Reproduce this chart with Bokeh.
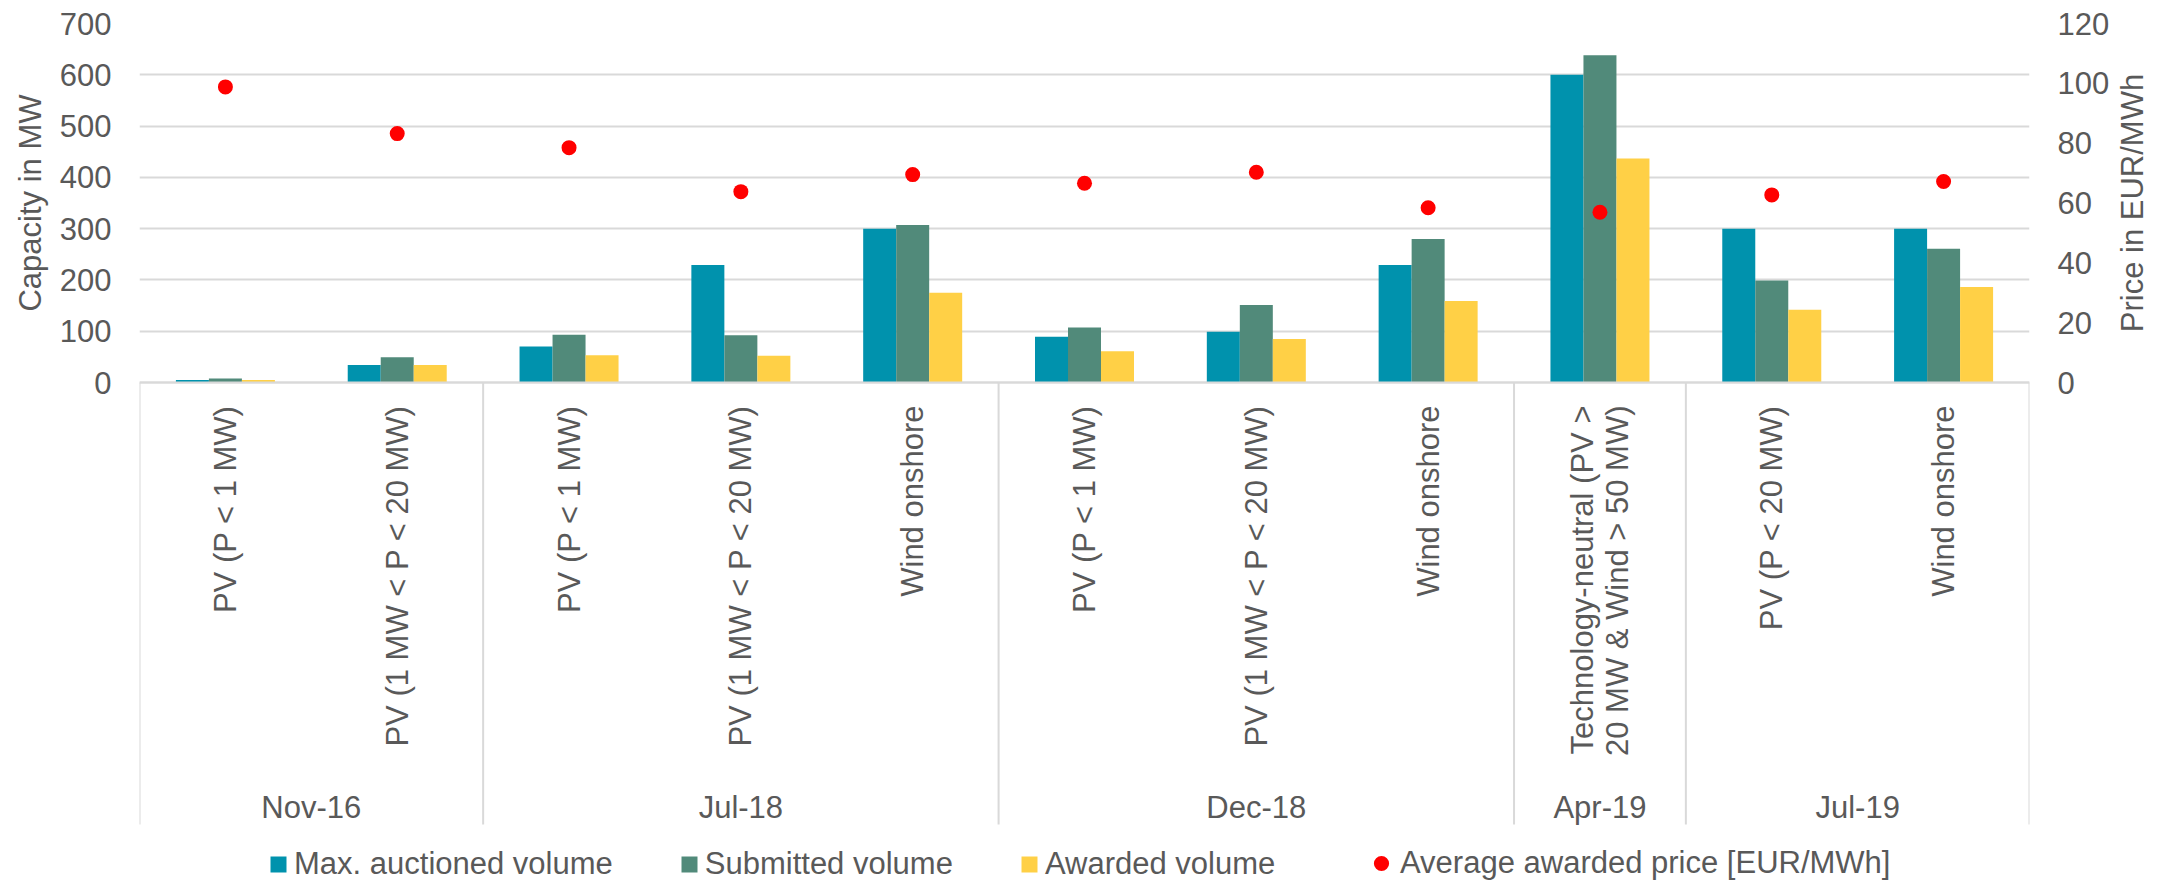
import math
from bokeh.plotting import figure
from bokeh.models import (ColumnDataSource, FactorRange, Range1d, LinearAxis, FixedTicker,
                          Legend, LegendItem, Label)
from bokeh.transform import dodge
from bokeh.core.properties import value
from bokeh.embed import file_html
from bokeh.resources import INLINE

# ---------------- data ----------------
groups = ["Nov-16", "Nov-16", "Jul-18", "Jul-18", "Jul-18", "Dec-18", "Dec-18", "Dec-18",
          "Apr-19", "Jul-19", "Jul-19"]
categories = ["PV (P < 1 MW)", "PV (1 MW < P < 20 MW)",
              "PV (P < 1 MW)", "PV (1 MW < P < 20 MW)", "Wind onshore",
              "PV (P < 1 MW)", "PV (1 MW < P < 20 MW)", "Wind onshore",
              "Technology-neutral (PV >\n20 MW & Wind > 50 MW)",
              "PV (P < 20 MW)", "Wind onshore"]
max_auctioned = [5, 34, 70, 229, 300, 89, 99, 229, 600, 300, 300]
submitted = [8, 49, 93, 92, 307, 107, 151, 280, 638, 199, 261]
awarded = [5, 34, 53, 52, 175, 61, 85, 159, 437, 142, 186]
avg_price = [98.8, 83.2, 78.5, 63.8, 69.5, 66.6, 70.3, 58.4, 56.9, 62.7, 67.2]
capacity_ticks = [0, 100, 200, 300, 400, 500, 600, 700]
price_ticks = [0, 20, 40, 60, 80, 100, 120]
left_title = "Capacity in MW"
right_title = "Price in EUR/MWh"

# ---------------- style ----------------
C_MAX = "#0092AD"
C_SUB = "#518A7A"
C_AWD = "#FFD046"
C_DOT = "#FF0000"
GRID = "#D9D9D9"
TXT = "#595959"
FONT = "Liberation Sans"
FS = "31px"

FRAME_W, FRAME_H = 1890, 859
ZERO_FROM_TOP = 359            # pixels between top gridline (700) and zero line
px_per_unit = ZERO_FROM_TOP / 700
y_start = -(FRAME_H - ZERO_FROM_TOP) / px_per_unit
p_start = y_start * 120 / 700

factors = list(zip(groups, categories))
x_range = FactorRange(*factors, factor_padding=0, group_padding=0, range_padding=0)

p = figure(x_range=x_range, y_range=Range1d(y_start, 700),
           frame_width=FRAME_W, frame_height=FRAME_H,
           min_border_left=139, min_border_right=143, min_border_top=23, min_border_bottom=0,
           x_axis_location=None, y_axis_location=None,
           output_backend="svg", toolbar_location=None, outline_line_color=None,
           background_fill_color="white", border_fill_color="white")
p.extra_y_ranges = {"price": Range1d(p_start, 120)}

src = ColumnDataSource(dict(x=factors, mx=max_auctioned, sub=submitted, awd=awarded,
                            price=avg_price, cat=categories))

# grid
p.xgrid.visible = False
p.ygrid.ticker = FixedTicker(ticks=capacity_ticks)
p.ygrid.grid_line_color = GRID
p.ygrid.grid_line_width = 2

# axes
def style_axis(ax, standoff=28):
    ax.axis_line_color = None
    ax.major_tick_line_color = None
    ax.minor_tick_line_color = None
    ax.major_tick_out = 0
    ax.major_tick_in = 0
    ax.major_label_standoff = standoff
    ax.major_label_text_font = FONT
    ax.major_label_text_font_size = FS
    ax.major_label_text_color = TXT

left = LinearAxis(ticker=FixedTicker(ticks=capacity_ticks))
style_axis(left)
p.add_layout(left, "left")
right = LinearAxis(y_range_name="price", ticker=FixedTicker(ticks=price_ticks))
style_axis(right)
p.add_layout(right, "right")

# axis titles, centred on the value part of the axes
n = len(factors)
cap_mid = (capacity_ticks[0] + capacity_ticks[-1]) / 2
left_t = LinearAxis(ticker=FixedTicker(ticks=[cap_mid]),
                    major_label_overrides={cap_mid: left_title},
                    major_label_orientation="vertical")
style_axis(left_t, standoff=9)
p.add_layout(left_t, "left")
p.add_layout(Label(x=n, y=cap_mid, x_offset=103, text=right_title, angle=math.pi / 2,
                   text_align="center", text_baseline="middle", text_font=FONT,
                   text_font_size=FS, text_color=TXT), "right")

# bars
bw = 33 / (FRAME_W / n)
r_mx = p.vbar(x=dodge("x", -bw, range=x_range), top="mx", width=bw, source=src,
              fill_color=C_MAX, line_color=None)
r_sub = p.vbar(x=dodge("x", 0, range=x_range), top="sub", width=bw, source=src,
               fill_color=C_SUB, line_color=None)
r_awd = p.vbar(x=dodge("x", bw, range=x_range), top="awd", width=bw, source=src,
               fill_color=C_AWD, line_color=None)
r_dot = p.scatter(x="x", y="price", source=src, y_range_name="price", size=15,
                  fill_color=C_DOT, line_color=None)

# category axis line (zero line)
p.segment(x0=[0], y0=[0], x1=[n], y1=[0], line_color=GRID, line_width=2)

# group separators
bounds = [0]
group_names = []
for g in groups:
    if not group_names or group_names[-1] != g:
        group_names.append(g)
        if len(group_names) > 1:
            bounds.append(groups.index(g))
bounds.append(len(groups))
SEP_BOTTOM = -(824 - 23 - ZERO_FROM_TOP) / px_per_unit
p.segment(x0=bounds, y0=[0] * len(bounds), x1=bounds, y1=[SEP_BOTTOM] * len(bounds),
          line_color=GRID, line_width=2)

# category labels (rotated)
p.text(x="x", y=0, text="cat", source=src, angle=math.pi / 2, y_offset=23,
       text_align="right", text_baseline="middle", text_font=value(FONT),
       text_font_size=FS, text_color=TXT, text_line_height=1.0)

# group labels
centers = [(bounds[i] + bounds[i + 1]) / 2 for i in range(len(group_names))]
gsrc = ColumnDataSource(dict(x=centers, y=[0] * len(centers), t=group_names))
p.text(x="x", y="y", text="t", source=gsrc, y_offset=425, text_align="center",
       text_baseline="middle", text_font=value(FONT), text_font_size=FS, text_color=TXT)

# legends
leg1 = Legend(items=[LegendItem(label="Max. auctioned volume", renderers=[r_mx]),
                     LegendItem(label="Submitted volume", renderers=[r_sub]),
                     LegendItem(label="Awarded volume", renderers=[r_awd])],
              orientation="horizontal", location=(129, 0),
              glyph_width=20, glyph_height=20, label_standoff=6, spacing=66,
              padding=0, margin=0, border_line_color=None, background_fill_alpha=0,
              label_text_font=FONT, label_text_font_size=FS, label_text_color=TXT)
leg2 = Legend(items=[LegendItem(label="Average awarded price [EUR/MWh]", renderers=[r_dot])],
              orientation="horizontal", location=(1362 - 139, 0),
              glyph_width=38, glyph_height=38, label_standoff=0,
              padding=0, margin=0, border_line_color=None, background_fill_alpha=0,
              label_text_font=FONT, label_text_font_size=FS, label_text_color=TXT)
p.add_layout(leg1, "center")
p.add_layout(leg2, "center")

open("out.html", "w").write(file_html(p, INLINE))
